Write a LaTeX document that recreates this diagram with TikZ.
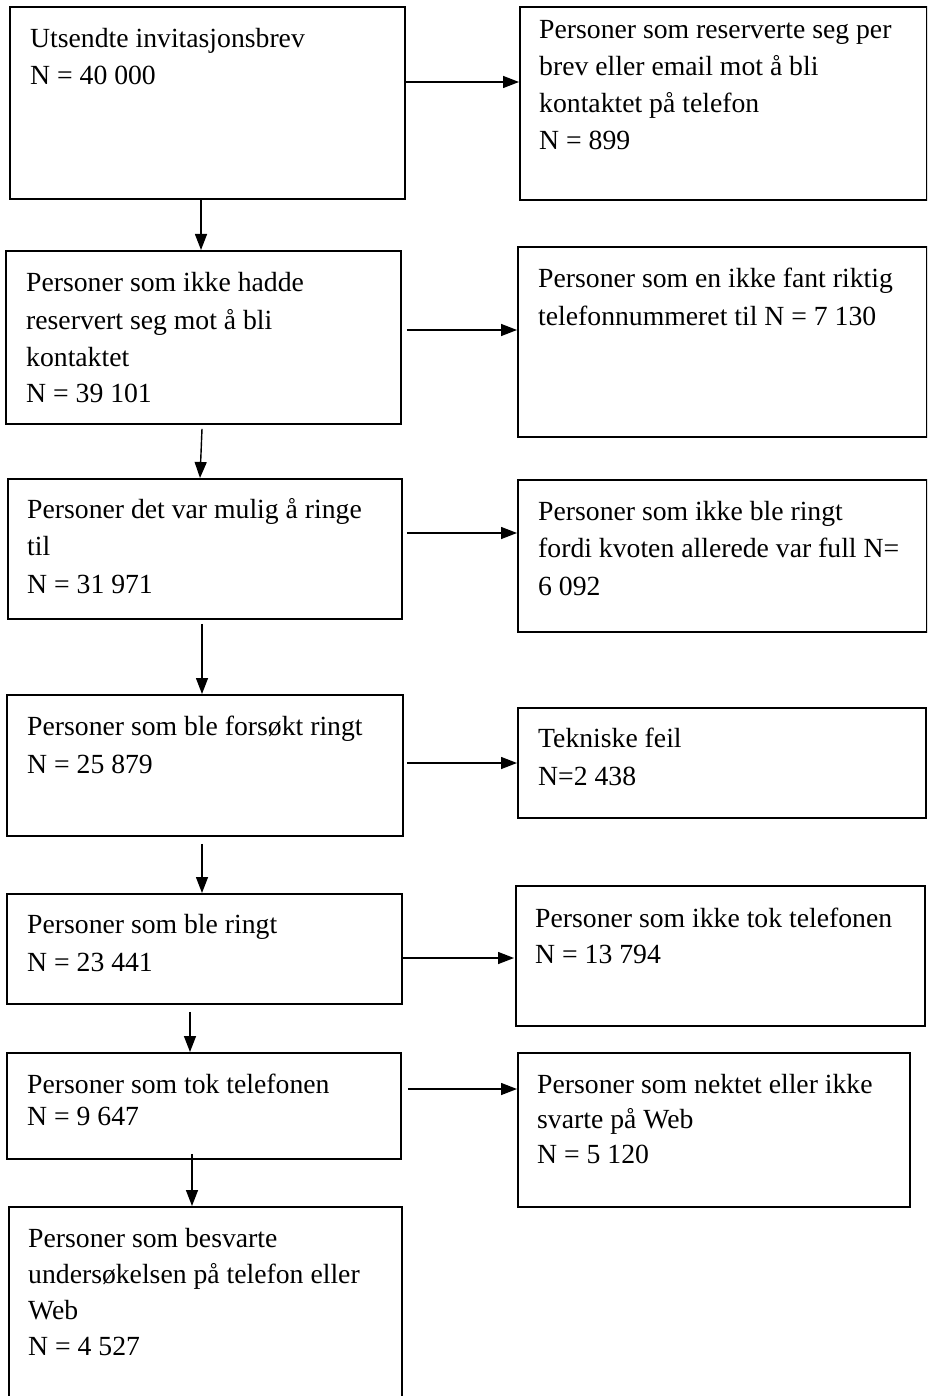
\documentclass[tikz,border=0pt]{standalone}
\usepackage{fontspec}
\setmainfont{Liberation Serif}
\usetikzlibrary{arrows.meta,calc}
\newcommand{\mlines}[2]{\vtop{\baselineskip=#1pt\lineskiplimit=-100pt\relax #2}}
\newcommand{\tline}[1]{\hbox{#1}}
\begin{document}
\begin{tikzpicture}[x=1pt,y=-1pt,
  box/.style 2 args={draw, line width=1.8pt, anchor=north west, inner sep=0pt,
    minimum width=#1pt, minimum height=#2pt},
  txt/.style={anchor=base west, inner sep=0pt, font=\fontsize{27.7}{37}\selectfont},
  arr/.style={line width=1.4pt, -{Triangle[length=16pt,width=12pt]}}]
\clip (0,0) rectangle (927,1396);
% boxes
\node[box={395}{192}] (b1) at (9,6) {};
\node[box={407}{193}] (r1) at (519,6) {};
\node[box={395}{173}] (b2) at (5,250) {};
\node[box={409}{190}] (r2) at (517,246) {};
\node[box={394}{140}] (b3) at (7,478) {};
\node[box={409}{152}] (r3) at (517,479) {};
\node[box={396}{141}] (b4) at (6,694) {};
\node[box={408}{110}] (r4) at (517,707) {};
\node[box={395}{110}] (b5) at (6,893) {};
\node[box={409}{140}] (r5) at (515,885) {};
\node[box={394}{106}] (b6) at (6,1052) {};
\node[box={392}{154}] (r6) at (517,1052) {};
\node[box={393}{230}] (b7) at (8,1206) {};
% texts
\node[txt] (t1) at (30,48) {\mlines{37}{\tline{Utsendte invitasjonsbrev}\tline{N = 40 000}}};
\node[txt] (tr1) at (539,39) {\mlines{37}{\tline{Personer som reserverte seg per}\tline{brev eller email mot å bli}\tline{kontaktet på telefon}\tline{N = 899}}};
\node[txt] (t2) at (26,292) {\mlines{37}{\tline{Personer som ikke hadde}\tline{reservert seg mot å bli}\tline{kontaktet}\tline{N = 39 101}}};
\node[txt] (tr2) at (538,288) {\mlines{37}{\tline{Personer som en ikke fant riktig}\tline{telefonnummeret til N = 7 130}}};
\node[txt] (t3) at (27,518) {\mlines{37.5}{\tline{Personer det var mulig å ringe}\tline{til}\tline{N = 31 971}}};
\node[txt] (tr3) at (538,520) {\mlines{37.5}{\tline{Personer som ikke ble ringt}\tline{fordi kvoten allerede var full N=}\tline{6 092}}};
\node[txt] (t4) at (27,735) {\mlines{38}{\tline{Personer som ble forsøkt ringt}\tline{N = 25 879}}};
\node[txt] (tr4) at (538,747) {\mlines{38}{\tline{Tekniske feil}\tline{N=2 438}}};
\node[txt] (t5) at (27,933) {\mlines{38}{\tline{Personer som ble ringt}\tline{N = 23 441}}};
\node[txt] (tr5) at (535,927) {\mlines{36}{\tline{Personer som ikke tok telefonen}\tline{N = 13 794}}};
\node[txt] (t6) at (27,1093) {\mlines{32}{\tline{Personer som tok telefonen}\tline{N = 9 647}}};
\node[txt] (tr6) at (537,1093) {\mlines{35}{\tline{Personer som nektet eller ikke}\tline{svarte på Web}\tline{N = 5 120}}};
\node[txt] (t7) at (28,1247) {\mlines{36}{\tline{Personer som besvarte}\tline{undersøkelsen på telefon eller}\tline{Web}\tline{N = 4 527}}};
% horizontal connectors
\draw[arr] (b1.east |- 0,82) -- (r1.west |- 0,82);
\draw[arr] ($(b2.east |- 0,330)+(5,0)$) -- (r2.west |- 0,330);
\draw[arr] ($(b3.east |- 0,533)+(4,0)$) -- (r3.west |- 0,533);
\draw[arr] ($(b4.east |- 0,763)+(3,0)$) -- (r4.west |- 0,763);
\draw[arr] (b5.east |- 0,958) -- ($(r5.west |- 0,958)+(-1,0)$);
\draw[arr] ($(b6.east |- 0,1089)+(6,0)$) -- (r6.west |- 0,1089);
% vertical connectors
\draw[arr] (b1.south -| 201,0) -- (b2.north -| 201,0);
\draw[arr] ($(b2.south -| 202,0)+(0,4)$) -- (b3.north -| 200,0);
\draw[arr] ($(b3.south -| 202,0)+(0,4)$) -- (b4.north -| 202,0);
\draw[arr] ($(b4.south -| 202,0)+(0,7)$) -- (b5.north -| 202,0);
\draw[arr] ($(b5.south -| 190,0)+(0,7)$) -- (b6.north -| 190,0);
\draw[arr] ($(b6.south -| 192,0)+(0,-6)$) -- (b7.north -| 192,0);
\end{tikzpicture}
\end{document}
